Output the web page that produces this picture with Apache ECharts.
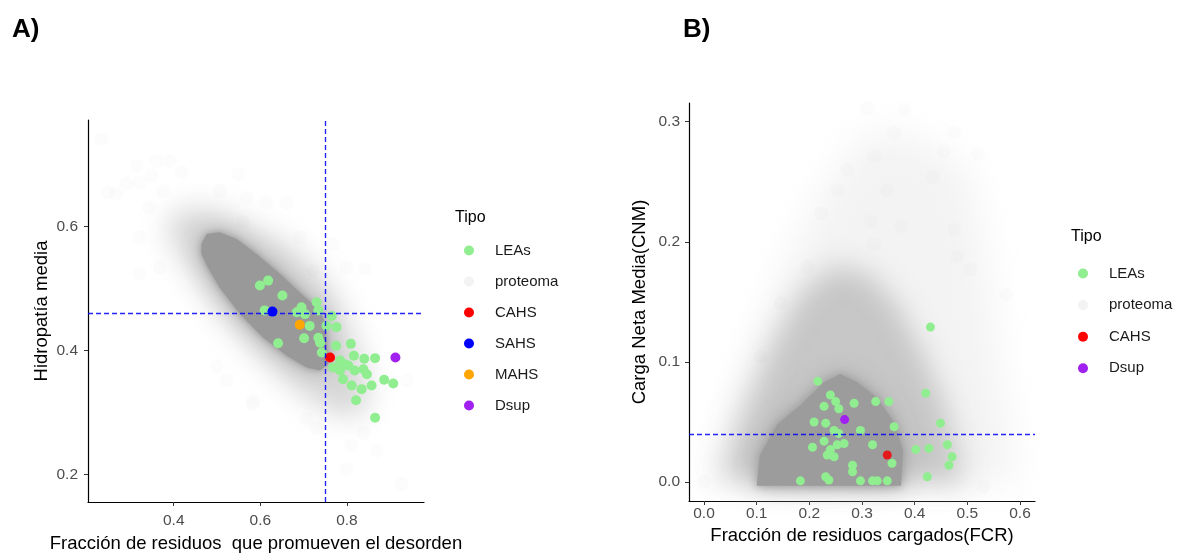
<!DOCTYPE html>
<html>
<head>
<meta charset="utf-8">
<script src="https://cdn.jsdelivr.net/npm/echarts@6/dist/echarts.min.js"></script>
<style>
html, body { margin: 0; background: #fff; }
#chart { width: 1188px; height: 554px; }
</style>
</head>
<body>
<div id="chart"></div>
<script>
// ---- panel A: hidropatía vs fracción que promueve desorden ----
const xTicksA = [0.4, 0.6, 0.8];
const yTicksA = [0.2, 0.4, 0.6];
const leaA = [
  [0.599, 0.505], [0.618, 0.513], [0.651, 0.489], [0.610, 0.465], [0.641, 0.412],
  [0.695, 0.470], [0.730, 0.478], [0.734, 0.465], [0.703, 0.459], [0.684, 0.462],
  [0.714, 0.440], [0.701, 0.420], [0.734, 0.421], [0.738, 0.413], [0.742, 0.397],
  [0.765, 0.456], [0.753, 0.440], [0.776, 0.438], [0.775, 0.408], [0.809, 0.411],
  [0.816, 0.392], [0.840, 0.387], [0.865, 0.388], [0.768, 0.373], [0.784, 0.368],
  [0.784, 0.384], [0.795, 0.378], [0.803, 0.376], [0.818, 0.368], [0.838, 0.370],
  [0.846, 0.362], [0.791, 0.354], [0.811, 0.344], [0.834, 0.338], [0.857, 0.344],
  [0.886, 0.353], [0.907, 0.347], [0.821, 0.320], [0.865, 0.292]
];
const cahsA = [[0.761, 0.389]];
const sahsA = [[0.628, 0.463]];
const mahsA = [[0.691, 0.442]];
const dsupA = [[0.912, 0.389]];
const cutXA = 0.75;
const cutYA = 0.459;
// proteoma: núcleo denso, halo y puntos sueltos
const coreA = [
  [0.464, 0.572], [0.476, 0.588], [0.506, 0.591], [0.545, 0.580], [0.591, 0.556],
  [0.645, 0.524], [0.691, 0.494], [0.722, 0.475], [0.745, 0.454], [0.753, 0.411],
  [0.757, 0.379], [0.738, 0.368], [0.707, 0.373], [0.661, 0.392], [0.607, 0.421],
  [0.553, 0.459], [0.506, 0.502], [0.479, 0.534], [0.464, 0.556]
];
const haloA = [
  [0.391, 0.615], [0.437, 0.631], [0.506, 0.626], [0.583, 0.599], [0.676, 0.567],
  [0.753, 0.511], [0.799, 0.454], [0.838, 0.379], [0.853, 0.319], [0.822, 0.292],
  [0.753, 0.303], [0.676, 0.341], [0.583, 0.400], [0.499, 0.465], [0.437, 0.529],
  [0.398, 0.572], [0.383, 0.599]
];
const looseA = [
  [0.233, 0.741], [0.314, 0.698], [0.360, 0.706], [0.391, 0.706], [0.348, 0.682],
  [0.418, 0.688], [0.549, 0.685], [0.291, 0.669], [0.248, 0.655], [0.267, 0.653],
  [0.321, 0.671], [0.375, 0.658], [0.506, 0.658], [0.568, 0.647], [0.614, 0.639],
  [0.661, 0.639], [0.344, 0.631], [0.321, 0.583], [0.368, 0.534], [0.321, 0.524],
  [0.560, 0.607], [0.691, 0.583], [0.768, 0.572], [0.799, 0.534], [0.842, 0.532],
  [0.722, 0.529], [0.938, 0.352], [0.583, 0.314], [0.522, 0.352], [0.499, 0.374],
  [0.799, 0.209], [0.927, 0.185], [0.869, 0.239], [0.707, 0.290], [0.730, 0.276],
  [0.838, 0.268], [0.583, 0.319], [0.811, 0.247]
];

// ---- panel B: carga neta media vs FCR ----
const xTicksB = [0.0, 0.1, 0.2, 0.3, 0.4, 0.5, 0.6];
const yTicksB = [0.0, 0.1, 0.2, 0.3];
const leaB = [
  [0.216, 0.084], [0.240, 0.0725], [0.228, 0.063], [0.250, 0.067], [0.256, 0.061],
  [0.285, 0.0656], [0.326, 0.067], [0.351, 0.067], [0.361, 0.046], [0.421, 0.074],
  [0.449, 0.049], [0.430, 0.129], [0.209, 0.050], [0.231, 0.049], [0.247, 0.043],
  [0.256, 0.0405], [0.297, 0.043], [0.206, 0.029], [0.228, 0.034], [0.240, 0.027],
  [0.253, 0.031], [0.266, 0.032], [0.234, 0.0225], [0.247, 0.021], [0.320, 0.031],
  [0.357, 0.0156], [0.402, 0.027], [0.427, 0.028], [0.462, 0.031], [0.471, 0.021],
  [0.465, 0.014], [0.424, 0.0044], [0.282, 0.014], [0.282, 0.0086], [0.183, 0.001],
  [0.231, 0.0044], [0.237, 0.0017], [0.297, 0.001], [0.320, 0.001], [0.329, 0.001],
  [0.348, 0.001]
];
const cahsB = [[0.348, 0.0225]];
const dsupB = [[0.267, 0.052]];
const cutYB = 0.035;
const coreB = [
  [0.100, -0.003], [0.106, 0.022], [0.139, 0.048], [0.183, 0.064], [0.228, 0.083],
  [0.259, 0.090], [0.291, 0.083], [0.329, 0.070], [0.362, 0.049], [0.378, 0.026],
  [0.374, -0.003]
];
const midB = [
  [0.032, 0.002], [0.070, 0.054], [0.133, 0.118], [0.183, 0.157], [0.247, 0.180],
  [0.310, 0.174], [0.367, 0.148], [0.417, 0.105], [0.455, 0.068], [0.481, 0.027],
  [0.493, -0.001]
];
const outerB = [
  [0.010, 0.002], [0.080, 0.096], [0.170, 0.195], [0.245, 0.255], [0.310, 0.290],
  [0.386, 0.290], [0.500, 0.262], [0.530, 0.200], [0.560, 0.096], [0.590, 0.013],
  [0.590, -0.002]
];
const looseB = [
  [0.310, 0.311], [0.380, 0.310], [0.361, 0.291], [0.475, 0.291], [0.323, 0.271],
  [0.520, 0.273], [0.272, 0.260], [0.455, 0.275], [0.348, 0.243], [0.222, 0.224],
  [0.317, 0.217], [0.374, 0.213], [0.481, 0.188], [0.323, 0.198], [0.573, 0.156],
  [0.146, 0.149], [0.108, 0.104], [0.507, 0.177], [0.196, 0.179], [0.435, 0.254],
  [0.253, 0.243], [0.475, 0.210], [0.0, 0.0], [0.531, -0.004]
];

const FONT = 'Liberation Sans, Arial, sans-serif';
const C = {
  lea: '#90EE90', cahs: '#FF0000', sahs: '#0000FF', mahs: '#FFA500',
  dsup: '#A020F0', cut: '#0000ff'
};
const SHIFT = 3000;

// nube difusa: sólo la sombra desenfocada del polígono
function cloudSeries(name, pts, xi, color, blur) {
  return {
    name: name, type: 'custom', xAxisIndex: xi, yAxisIndex: xi, data: pts,
    silent: true, clip: false,
    renderItem: function (params, api) {
      if (params.dataIndex !== 0) return;
      return {
        type: 'polygon',
        shape: { points: pts.map(p => { const c = api.coord(p); return [c[0] - SHIFT, c[1]]; }) },
        style: { fill: '#000', shadowBlur: blur, shadowColor: color, shadowOffsetX: SHIFT, shadowOffsetY: 0 }
      };
    }
  };
}

// núcleo denso: relleno sólido con borde difuso
function coreSeries(name, pts, xi, color, blur) {
  return {
    name: name, type: 'custom', xAxisIndex: xi, yAxisIndex: xi, data: pts,
    silent: true, clip: false,
    renderItem: function (params, api) {
      if (params.dataIndex !== 0) return;
      return {
        type: 'polygon',
        shape: { points: pts.map(p => api.coord(p)) },
        style: { fill: color, shadowBlur: blur, shadowColor: color }
      };
    }
  };
}

function dots(name, data, xi, color, size) {
  return {
    name: name, type: 'scatter', xAxisIndex: xi, yAxisIndex: xi, data: data,
    symbolSize: size, itemStyle: { color: color, opacity: 1 }, silent: true
  };
}

function cutLines(list) {
  const ls = { color: C.cut, type: [5, 3], width: 1.4, opacity: 0.85 };
  return {
    silent: true, symbol: ['none', 'none'], label: { show: false },
    emphasis: { disabled: true },
    lineStyle: ls,
    data: list.map(d => Object.assign({ lineStyle: ls }, d))
  };
}

function axisCfg(gi, min, max, ticks, name, gap, margin) {
  return {
    gridIndex: gi, type: 'value', min: min, max: max,
    name: name, nameLocation: 'middle', nameGap: gap,
    nameTextStyle: { fontSize: 18.5, color: '#000', fontFamily: FONT },
    axisLine: { show: true, onZero: false, lineStyle: { color: '#000', width: 1.2 } },
    axisTick: { show: true, length: 4, customValues: ticks, lineStyle: { color: '#333' } },
    axisLabel: { customValues: ticks, formatter: v => v.toFixed(1), color: '#4d4d4d',
                 fontSize: 15.5, margin: margin, fontFamily: FONT },
    splitLine: { show: false }
  };
}

function legendCfg(left, top, gap, names) {
  return {
    left: left, top: top, orient: 'vertical', padding: 0,
    itemWidth: 10, itemHeight: 10, itemGap: gap, icon: 'circle',
    selectedMode: false,
    textStyle: { fontSize: 15, color: '#1a1a1a', fontFamily: FONT, lineHeight: 14,
                 padding: [0, 0, 0, 16] },
    data: names.map(n => n === 'proteoma'
      ? { name: n, itemStyle: { color: '#f3f3f3', opacity: 1 } }
      : { name: n })
  };
}

const titleStyle = { fontSize: 26, fontWeight: 'bold', color: '#000', fontFamily: FONT };
const tipoStyle = { fontSize: 16, fontWeight: 'normal', color: '#000', fontFamily: FONT };

const chart = echarts.init(document.getElementById('chart'), null, { renderer: 'canvas' });
chart.setOption({
  backgroundColor: '#fff',
  animation: false,
  title: [
    { text: 'A)', left: 12, top: 17, padding: 0, textStyle: titleStyle },
    { text: 'B)', left: 683, top: 17, padding: 0, textStyle: titleStyle },
    { text: 'Tipo', left: 455, top: 210, padding: 0, textStyle: tipoStyle },
    { text: 'Tipo', left: 1071, top: 229, padding: 0, textStyle: tipoStyle }
  ],
  legend: [
    legendCfg(464, 243, 16, ['LEAs', 'proteoma', 'CAHS', 'SAHS', 'MAHS', 'Dsup']),
    legendCfg(1078, 266, 16.6, ['LEAs', 'proteoma', 'CAHS', 'Dsup'])
  ],
  grid: [
    { left: 88, top: 120, width: 336, height: 382, outerBoundsMode: 'none', containLabel: false },
    { left: 689, top: 103, width: 346, height: 398, outerBoundsMode: 'none', containLabel: false }
  ],
  xAxis: [
    axisCfg(0, 0.202, 0.978, xTicksA, 'Fracción de residuos  que promueven el desorden', 32, 11),
    axisCfg(1, -0.0285, 0.6285, xTicksB, 'Fracción de residuos cargados(FCR)', 23, 5)
  ],
  yAxis: [
    axisCfg(0, 0.156, 0.772, yTicksA, 'Hidropatía media', 37, 10),
    axisCfg(1, -0.0158, 0.3156, yTicksB, 'Carga Neta Media(CNM)', 40, 9)
  ],
  series: [
    // panel A
    cloudSeries('haloA', haloA, 0, 'rgba(200,200,200,0.75)', 28),
    cloudSeries('glowA', coreA, 0, 'rgba(160,160,160,0.9)', 22),
    coreSeries('coreA', coreA, 0, '#999999', 6),
    dots('proteoma', looseA, 0, 'rgba(150,150,150,0.028)', 14),
    dots('LEAs', leaA, 0, C.lea, 10),
    dots('CAHS', cahsA, 0, C.cahs, 10),
    dots('SAHS', sahsA, 0, C.sahs, 10),
    dots('MAHS', mahsA, 0, C.mahs, 10),
    Object.assign(dots('Dsup', dsupA, 0, C.dsup, 10), {
      markLine: cutLines([{ xAxis: cutXA }, { yAxis: cutYA }])
    }),
    // panel B
    cloudSeries('outerB', outerB, 1, 'rgba(228,228,228,0.45)', 36),
    cloudSeries('midB', midB, 1, 'rgba(190,190,190,0.85)', 28),
    cloudSeries('glowB', coreB, 1, 'rgba(160,160,160,0.9)', 24),
    coreSeries('coreB', coreB, 1, '#9c9c9c', 8),
    dots('proteoma', looseB, 1, 'rgba(150,150,150,0.028)', 14),
    dots('LEAs', leaB, 1, C.lea, 9),
    dots('CAHS', cahsB, 1, '#E31A1C', 9),
    Object.assign(dots('Dsup', dsupB, 1, C.dsup, 9), {
      markLine: cutLines([{ yAxis: cutYB }])
    })
  ]
});
</script>
</body>
</html>
